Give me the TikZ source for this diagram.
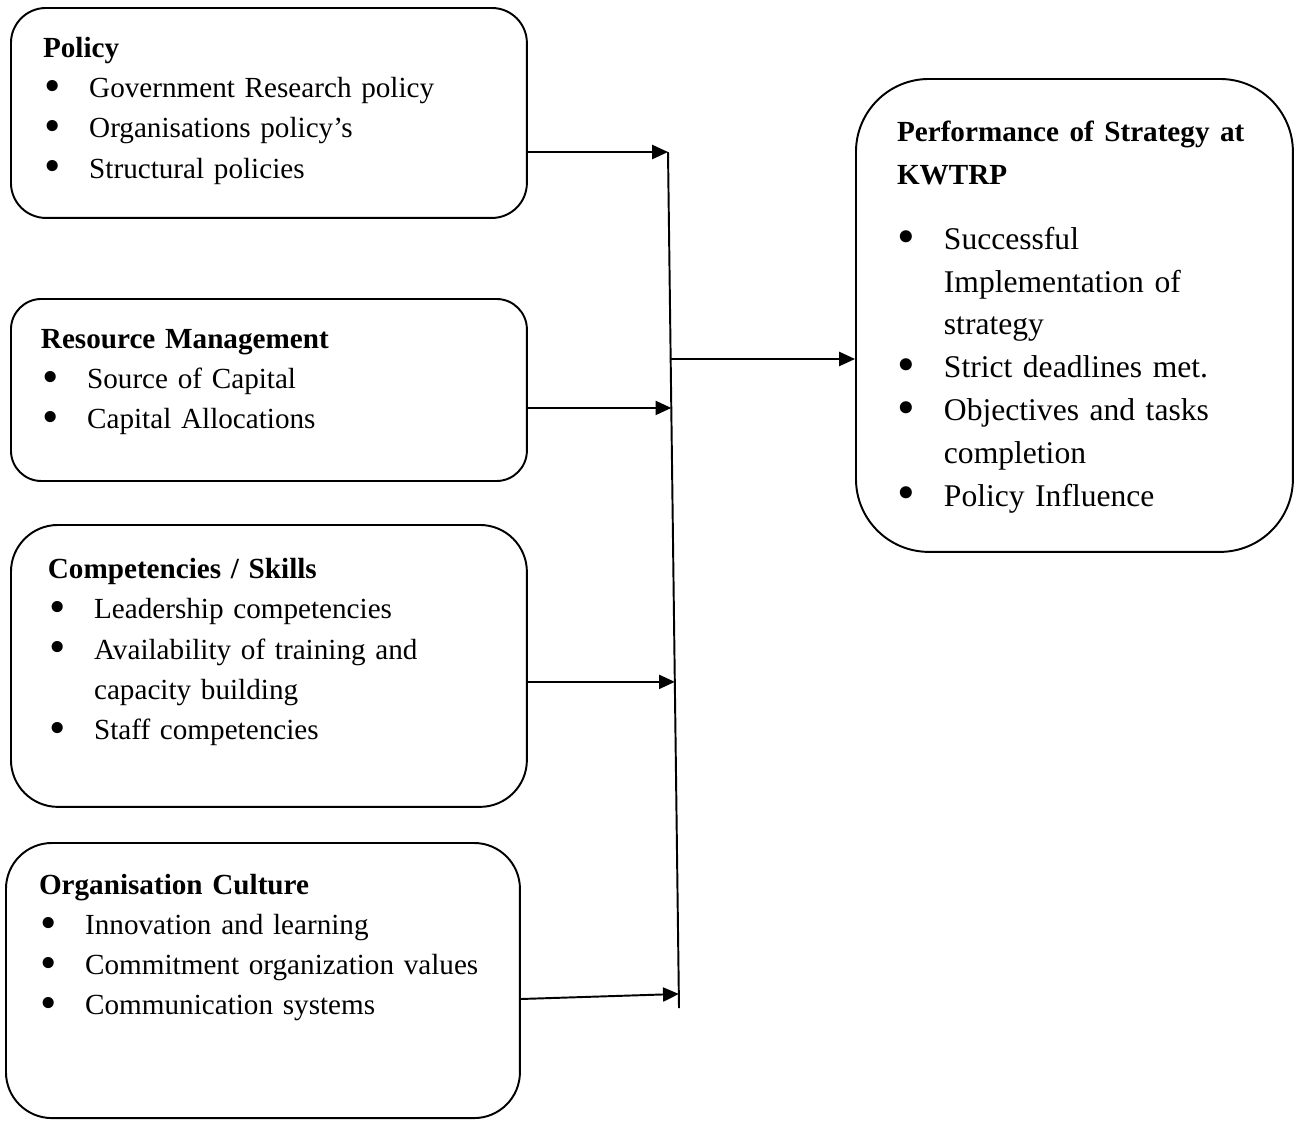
\documentclass[tikz,border=0pt]{standalone}
\usepackage{fontspec}
\setmainfont{Liberation Serif}
\usetikzlibrary{arrows.meta, positioning, calc}

\newcommand{\lfont}{\fontsize{12}{16.5}\selectfont}
\newcommand{\rfont}{\fontsize{13}{17.6}\selectfont}
\newcommand{\rtitle}{\fontsize{12}{17.6}\selectfont\bfseries}
\newcommand{\bul}{\raisebox{-1.6pt}{\scalebox{1.6}{\textbullet}}}

\begin{document}
\begin{tikzpicture}[
  x=0.4115pt, y=-0.4115pt,
  box/.style={rectangle, draw, line width=0.8pt, anchor=north west,
    align=left, inner ysep=0pt},
  arrow/.style={-{Triangle[length=6.5pt, width=5.8pt]}, line width=0.8pt}
]
  \useasboundingbox (0,0) rectangle (1296,1120);

  % left boxes
  \node[box, font=\lfont, inner xsep=13.2pt, text width=185.9pt,
    minimum height=86.4pt, rounded corners=14.4pt] (policy) at (10,7) {%
    \begin{tabular}{@{\hspace{0.5pt}}p{18.5pt}@{}l@{}}
      \multicolumn{2}{@{}l@{}}{\textbf{Policy}}\\
      \bul & Government Research policy\\
      \bul & Organisations policy’s\\
      \bul & Structural policies\\[2.5pt]
    \end{tabular}};
  \node[box, font=\lfont, inner xsep=12.35pt, text width=187.6pt,
    minimum height=74.9pt, rounded corners=12.5pt] (resource) at (10,298) {%
    \begin{tabular}{@{\hspace{0.5pt}}p{18.5pt}@{}l@{}}
      \multicolumn{2}{@{}l@{}}{\textbf{Resource Management}}\\
      \bul & Source of Capital\\
      \bul & Capital Allocations\\[7.8pt]
    \end{tabular}};
  \node[box, font=\lfont, inner xsep=15.2pt, text width=181.9pt,
    minimum height=116pt, rounded corners=19.3pt] (skills) at (10,524) {%
    \begin{tabular}{@{\hspace{0.5pt}}p{18.5pt}@{}l@{}}
      \multicolumn{2}{@{}l@{}}{\textbf{Competencies / Skills}}\\
      \bul & Leadership competencies\\
      \bul & Availability of training and\\
           & capacity building\\
      \bul & Staff competencies\\[12.3pt]
    \end{tabular}};
  \node[box, font=\lfont, inner xsep=13.6pt, text width=184.3pt,
    minimum height=113.2pt, rounded corners=18.9pt] (culture) at (5,842) {%
    \begin{tabular}{@{\hspace{0.5pt}}p{18.5pt}@{}l@{}}
      \multicolumn{2}{@{}l@{}}{\textbf{Organisation Culture}}\\
      \bul & Innovation and learning\\
      \bul & Commitment organization values\\
      \bul & Communication systems\\[28pt]
    \end{tabular}};

  % outcome box
  \node[box, font=\rfont, inner xsep=16.9pt, text width=146pt,
    minimum height=194.6pt, rounded corners=30pt] (perf) at (855,78) {%
    \begin{tabular}{@{}p{19.3pt}@{}l@{}}
      \multicolumn{2}{@{}l@{}}{\rtitle Performance of Strategy at}\\
      \multicolumn{2}{@{}l@{}}{\rtitle KWTRP}\\[9pt]
      \bul & Successful\\
           & Implementation of\\
           & strategy\\
      \bul & Strict deadlines met.\\
      \bul & Objectives and tasks\\
           & completion\\
      \bul & Policy Influence\\
    \end{tabular}};

  % collecting line
  \coordinate (bustop) at (668,152);
  \coordinate (busbot) at (679,1008);
  \coordinate (j2) at ($(bustop)!0.299!(busbot)$);
  \coordinate (j3) at ($(bustop)!0.619!(busbot)$);
  \coordinate (j4) at ($(bustop)!0.9836!(busbot)$);
  \coordinate (jm) at ($(bustop)!0.2418!(busbot)$);
  \draw[line width=0.8pt] (bustop) -- (busbot);

  \draw[arrow] (policy.east |- bustop) -- (bustop);
  \draw[arrow] (resource.east |- j2) -- (j2);
  \draw[arrow] (skills.east |- j3) -- (j3);
  \draw[arrow] ([yshift=-7.6pt]culture.east) -- (j4);
  \draw[arrow] (jm) -- (perf.west |- jm);
\end{tikzpicture}
\end{document}
